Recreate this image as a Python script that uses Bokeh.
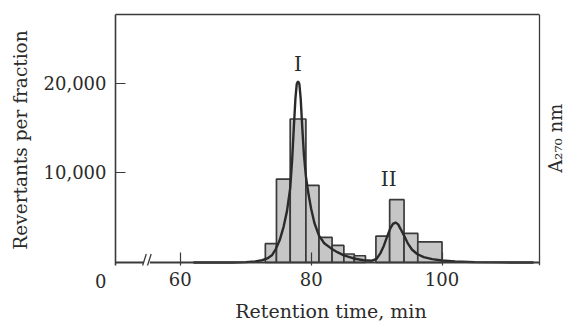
import math
from bokeh.plotting import figure
from bokeh.models import Range1d, FixedTicker, NumeralTickFormatter, Label, LinearAxis
from bokeh.embed import file_html
from bokeh.resources import INLINE

# ---- data ----
# Fractions of peak I: bin edges (retention time, min) and revertants per fraction
peak1_edges = [73.0, 74.7, 76.8, 79.2, 81.2, 83.2, 85.0, 86.6, 88.3]
peak1_revertants = [2100, 9300, 16000, 8600, 2800, 1900, 950, 750]
# Fractions of peak II
peak2_edges = [89.9, 92.0, 94.2, 96.3, 100.0]
peak2_revertants = [2950, 7000, 3250, 2300]

# A270 absorbance trace (drawn on the revertants scale)
trace_time = [62, 68, 70, 71.5, 72.5, 73.3, 74.0, 74.6, 75.2, 75.8, 76.3, 76.8,
              77.1, 77.35, 77.6, 77.8, 78.0, 78.2, 78.4, 78.65, 78.9, 79.2, 79.6,
              80.0, 80.5, 81.2, 82.0, 83.0, 84.0, 85.0, 86.5, 88.0, 89.3, 90.0,
              90.6, 91.1, 91.6, 92.1, 92.5, 92.9, 93.3, 93.7, 94.2, 94.8, 95.4,
              96.2, 97.2, 98.5, 100.0, 102.0, 105.0, 109.0, 114.0]
trace_signal = [0, 0, 40, 120, 250, 450, 800, 1500, 2500, 4000, 5700, 8300,
                11500, 15000, 18300, 19900, 20200, 19900, 18300, 15000, 12000, 9600, 7600,
                6000, 4400, 3000, 2150, 1600, 1150, 800, 450, 250, 200, 400,
                1050, 1850, 2850, 3800, 4300, 4450, 4250, 3700, 3000, 2100, 1450,
                950, 600, 380, 220, 110, 40, 10, 0]

x_ticks = [60, 80, 100]
y_ticks = [0, 10000, 20000]
y_tick_labels = {0: "\n0"}   # the origin "0" sits below-left of the corner
peak_names = ["I", "II"]
right_title = "A\u2082\u2087\u2080 nm"

# ---- styling ----
FONT = "DejaVu Serif"
TXT = "#2b2b2b"
LINE = "#3a3a3a"
PX = 111.5                      # revertants per pixel
X0, X1 = 50.1, 114.9            # boxed plot area
XPX = 424 / (X1 - X0)           # pixels per minute
X_END = X1 + 25 / XPX           # drawing area runs on to the page edge (right title)
Y0, Y1 = -3 * PX, 27650

p = figure(width=564, height=324, output_backend="svg", toolbar_location=None,
           x_range=Range1d(X0, X_END), y_range=Range1d(Y0, Y1),
           min_border_left=115, min_border_right=0, min_border_top=14,
           min_border_bottom=59)
p.grid.visible = False
p.background_fill_color = "white"
p.border_fill_color = "white"
p.outline_line_color = None

# histogram bars
p.quad(left=peak1_edges[:-1], right=peak1_edges[1:], bottom=0, top=peak1_revertants,
       fill_color="#c6c6c6", line_color=LINE, line_width=1.7)
p.quad(left=peak2_edges[:-1], right=peak2_edges[1:], bottom=0, top=peak2_revertants,
       fill_color="#c6c6c6", line_color=LINE, line_width=1.7)

# absorbance trace
p.line(trace_time, trace_signal, line_color="#2a2a2a", line_width=2.4)

# baseline with axis break "//" and right edge of the box
BRK = 54.85
p.segment(x0=[X0, BRK + 0.5], y0=[0, 0], x1=[BRK - 0.45, X1], y1=[0, 0],
          line_color=LINE, line_width=1.8)
p.segment(x0=[BRK - 0.65, BRK + 0.1], y0=[-4 * PX, -4 * PX],
          x1=[BRK - 0.05, BRK + 0.7], y1=[8.5 * PX, 8.5 * PX],
          line_color=LINE, line_width=1.3)
p.segment(x0=[X1], y0=[Y0], x1=[X1], y1=[Y1], line_color=LINE, line_width=1.3)

# bottom axis
xa = p.xaxis[0]
xa.ticker = FixedTicker(ticks=x_ticks)
xa.axis_line_color = None
xa.major_tick_in = 13
xa.major_tick_out = 0
xa.minor_tick_line_color = None
xa.major_tick_line_color = LINE
xa.major_tick_line_width = 1.2
xa.major_label_standoff = 6
xa.major_label_text_font = FONT
xa.major_label_text_font_size = "18px"
xa.major_label_text_color = TXT
# trailing no-break spaces keep the title centred under the box, not the wider drawing area
xa.axis_label = "Retention time, min" + "\u00a0" * 3
xa.axis_label_text_font = FONT
xa.axis_label_text_font_size = "19px"
xa.axis_label_text_font_style = "normal"
xa.axis_label_text_color = TXT
xa.axis_label_standoff = 11

# left axis
ya = p.yaxis[0]
ya.ticker = FixedTicker(ticks=y_ticks)
ya.formatter = NumeralTickFormatter(format="0,0")
ya.major_label_overrides = y_tick_labels
ya.axis_line_color = LINE
ya.axis_line_width = 1.6
ya.major_tick_in = 10
ya.major_tick_out = 0
ya.minor_tick_line_color = None
ya.major_tick_line_color = LINE
ya.major_tick_line_width = 1.2
ya.major_label_standoff = 9
ya.major_label_text_font = FONT
ya.major_label_text_font_size = "18px"
ya.major_label_text_line_height = 1.8
ya.major_label_text_color = TXT
ya.axis_label = "Revertants per fraction"
ya.axis_label_text_font = FONT
ya.axis_label_text_font_size = "18.5px"
ya.axis_label_text_font_style = "normal"
ya.axis_label_text_color = TXT
ya.axis_label_standoff = 10

# top edge of the box
top = LinearAxis(ticker=FixedTicker(ticks=[]), axis_line_color=LINE, axis_line_width=1.3,
                 bounds=(X0, X1), major_tick_in=0, major_tick_out=0,
                 major_tick_line_color=None, minor_tick_line_color=None)
p.add_layout(top, "above")

# right-hand title, reading upward from the 10,000 level
p.add_layout(Label(x=X1, y=10000, x_offset=5, text=right_title, angle=math.pi / 2,
                   text_align="left", text_baseline="top",
                   text_font=FONT, text_font_size="18px", text_color=TXT))

# peak labels
p.add_layout(Label(x=78.0, y=22100, text=peak_names[0], text_align="center",
                   text_baseline="middle", text_font=FONT, text_font_size="20px",
                   text_color=TXT))
p.add_layout(Label(x=91.85, y=9360, text=peak_names[1], text_align="center",
                   text_baseline="middle", text_font=FONT, text_font_size="20px",
                   text_color=TXT))

open("out.html", "w").write(file_html(p, INLINE))
